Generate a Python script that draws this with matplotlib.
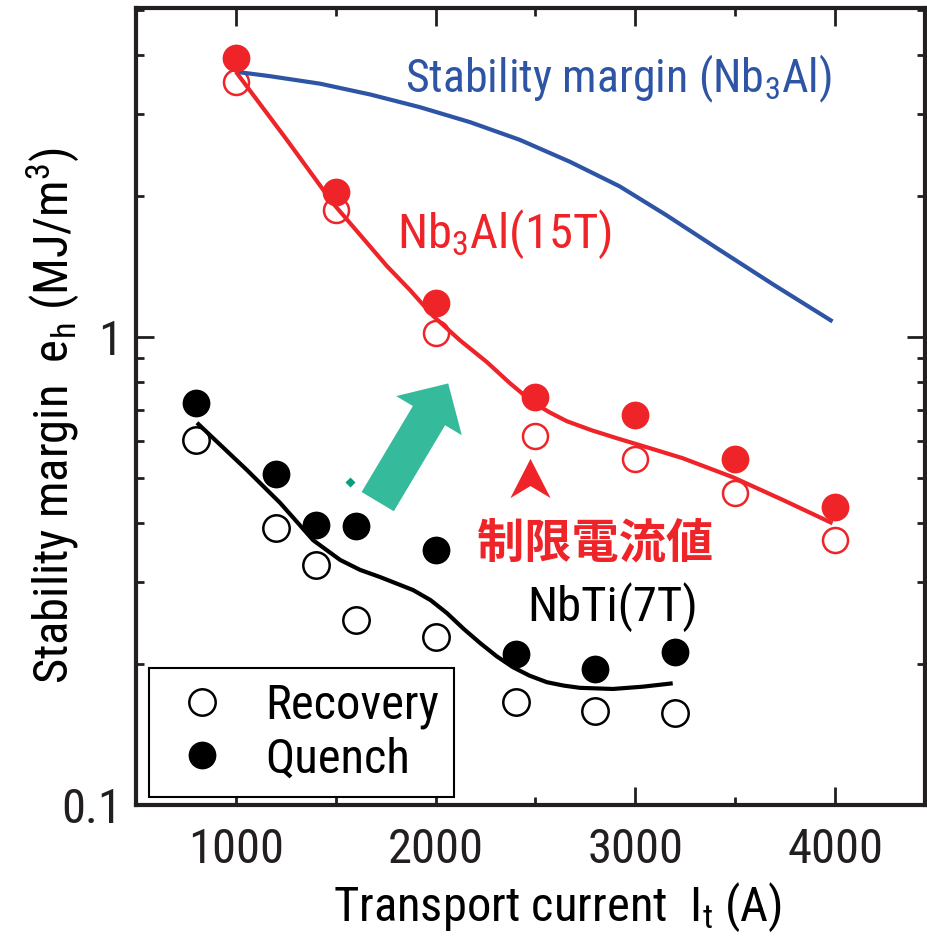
import numpy as np
import matplotlib
matplotlib.use("Agg")
import matplotlib.pyplot as plt
from matplotlib.ticker import FixedLocator, LogLocator, NullFormatter, FuncFormatter
from matplotlib.path import Path

# condensed sans similar to the squeezed Helvetica of the original
plt.rcParams['font.family'] = ['Roboto Condensed', 'Liberation Sans', 'DejaVu Sans']
plt.rcParams['mathtext.fontset'] = 'custom'
plt.rcParams['mathtext.rm'] = 'Roboto Condensed'
plt.rcParams['mathtext.it'] = 'Roboto Condensed'

RED = "#ee2428"
BLUE = "#2e54a5"
TEAL = "#35ba9c"
FS = 35

# Nb3Al (15T) measured points
nb3al_current = [1000, 1500, 2000, 2500, 3000, 3500, 4000]
nb3al_quench = [3.95, 2.04, 1.18, 0.744, 0.681, 0.549, 0.433]
nb3al_recovery = [3.51, 1.87, 1.02, 0.614, 0.549, 0.464, 0.368]

# NbTi (7T) measured points
nbti_current = [800, 1200, 1400, 1600, 2000, 2400, 2800, 3200]
nbti_quench = [0.723, 0.510, 0.397, 0.395, 0.351, 0.210, 0.195, 0.212]
nbti_recovery = [0.603, 0.391, 0.326, 0.249, 0.229, 0.166, 0.159, 0.157]

# fitted curves
nb3al_fit_x = [1000, 1255, 1487, 1755, 1872, 1987, 2121, 2257, 2372, 2487, 2572, 2657,
               2782, 2907, 3072, 3237, 3487, 3737, 3987]
nb3al_fit_y = [3.69, 2.64, 1.93, 1.42, 1.26, 1.11, 0.985, 0.884, 0.797, 0.725, 0.690, 0.661,
               0.632, 0.608, 0.579, 0.551, 0.502, 0.449, 0.400]

nbti_fit_x = [805, 1055, 1222, 1387, 1522, 1622, 1722, 1887, 1975, 2057, 2140, 2222, 2305,
              2387, 2470, 2557, 2640, 2722, 2887, 3037, 3187]
nbti_fit_y = [0.656, 0.520, 0.442, 0.368, 0.334, 0.318, 0.307, 0.288, 0.274, 0.257, 0.238,
              0.222, 0.208, 0.197, 0.189, 0.183, 0.180, 0.178, 0.177, 0.179, 0.182]

margin_x = [1000, 1172, 1421, 1672, 1921, 2172, 2421, 2672, 2921, 3157, 3407, 3697, 3987]
margin_y = [3.69, 3.61, 3.48, 3.30, 3.10, 2.88, 2.64, 2.37, 2.10, 1.82, 1.55, 1.29, 1.08]

fig = plt.figure(figsize=(9.27, 9.52), dpi=100)
ax = fig.add_axes([136 / 927, 147 / 952, 789 / 927, 797 / 952])
ax.set_yscale('log')
ax.set_xlim(500, 4450)
ax.set_ylim(0.1, 5.05)

# open markers underneath the lines
ax.plot(nb3al_current, nb3al_recovery, 'o', ms=18, mfc='none', mec=RED, mew=1.8, zorder=1)
ax.plot(nbti_current, nbti_recovery, 'o', ms=19, mfc='none', mec='black', mew=1.8, zorder=1,
        label='Recovery')

ax.plot(margin_x, margin_y, color=BLUE, lw=3, zorder=2, solid_capstyle='butt')
ax.plot(nb3al_fit_x, nb3al_fit_y, color=RED, lw=3, zorder=2, solid_capstyle='butt')
ax.plot(nbti_fit_x, nbti_fit_y, color='black', lw=3, zorder=2, solid_capstyle='butt')

ax.plot(nb3al_current, nb3al_quench, 'o', ms=20, color=RED, mec='none', zorder=3)
ax.plot(nbti_current, nbti_quench, 'o', ms=20, color='black', mec='none', zorder=3,
        label='Quench')

# annotations
ax.text(1846, 3.34, 'Stability margin (Nb$_\\mathregular{3}$Al)', color=BLUE, fontsize=33,
        va='baseline', ha='left')
ax.text(1806, 1.55, 'Nb$_\\mathregular{3}$Al(15T)', color=RED, fontsize=FS,
        va='baseline', ha='left')
ax.text(2206, 0.363, '制限電流値', color=RED, fontsize=34, fontweight='bold',
        family=['Noto Sans CJK JP'], va='center', ha='left')
ax.text(2457, 0.248, 'NbTi(7T)', color='black', fontsize=FS, va='baseline', ha='left')

# red chevron pointing at the limiting current
chevron = Path([(0, 19.5), (-20, -19.5), (0, -7.5), (20, -19.5), (0, 19.5)],
               [Path.MOVETO, Path.LINETO, Path.LINETO, Path.LINETO, Path.CLOSEPOLY])
ax.plot([2470], [0.501], marker=chevron, ms=29, color=RED, mec='none', zorder=3)

# teal arrow
ax.annotate('', xy=(2063, 0.796), xytext=(1710, 0.445),
            arrowprops=dict(arrowstyle='simple,head_length=27,head_width=55,tail_width=27',
                            mutation_scale=1, color=TEAL, shrinkA=0, shrinkB=0, lw=0))
ax.plot([1572], [0.49], marker='D', ms=5, color='#0e9c7e', mec='none')

# axes styling
for s in ax.spines.values():
    s.set_linewidth(3)
    s.set_color('#231f20')
ax.xaxis.set_major_locator(FixedLocator([1000, 2000, 3000, 4000]))
ax.xaxis.set_minor_locator(FixedLocator([1500, 2500, 3500]))
ax.yaxis.set_major_locator(LogLocator(base=10))
ax.yaxis.set_minor_locator(LogLocator(base=10, subs=np.arange(2, 10)))
ax.yaxis.set_minor_formatter(NullFormatter())
ax.yaxis.set_major_formatter(FuncFormatter(lambda v, p: f"{v:g}"))
ax.tick_params(which='both', direction='in', top=True, right=True, width=2,
               labelsize=FS, color='#231f20', labelcolor='#231f20')
ax.tick_params(which='major', length=13)
ax.tick_params(which='minor', length=6)
ax.tick_params(axis='x', which='both', pad=16)
ax.tick_params(axis='y', which='both', pad=10)

ax.set_xlabel('Transport current  I$_\\mathregular{t}$ (A)', fontsize=FS)
ax.set_ylabel('Stability margin  e$_\\mathregular{h}$ (MJ/m$^\\mathregular{3}$)', fontsize=FS)
ax.xaxis.set_label_coords(0.534, -0.095)
ax.yaxis.set_label_coords(-0.07, 0.489)

leg = ax.legend(loc='lower left', bbox_to_anchor=(0.0165, 0.01), fontsize=FS,
                frameon=True, fancybox=False, edgecolor='black', framealpha=1,
                handletextpad=0.5, borderpad=0.3, labelspacing=0.15, handlelength=1.6,
                borderaxespad=0)
leg.get_frame().set_linewidth(1.5)

fig.savefig('out.png', dpi=100)
